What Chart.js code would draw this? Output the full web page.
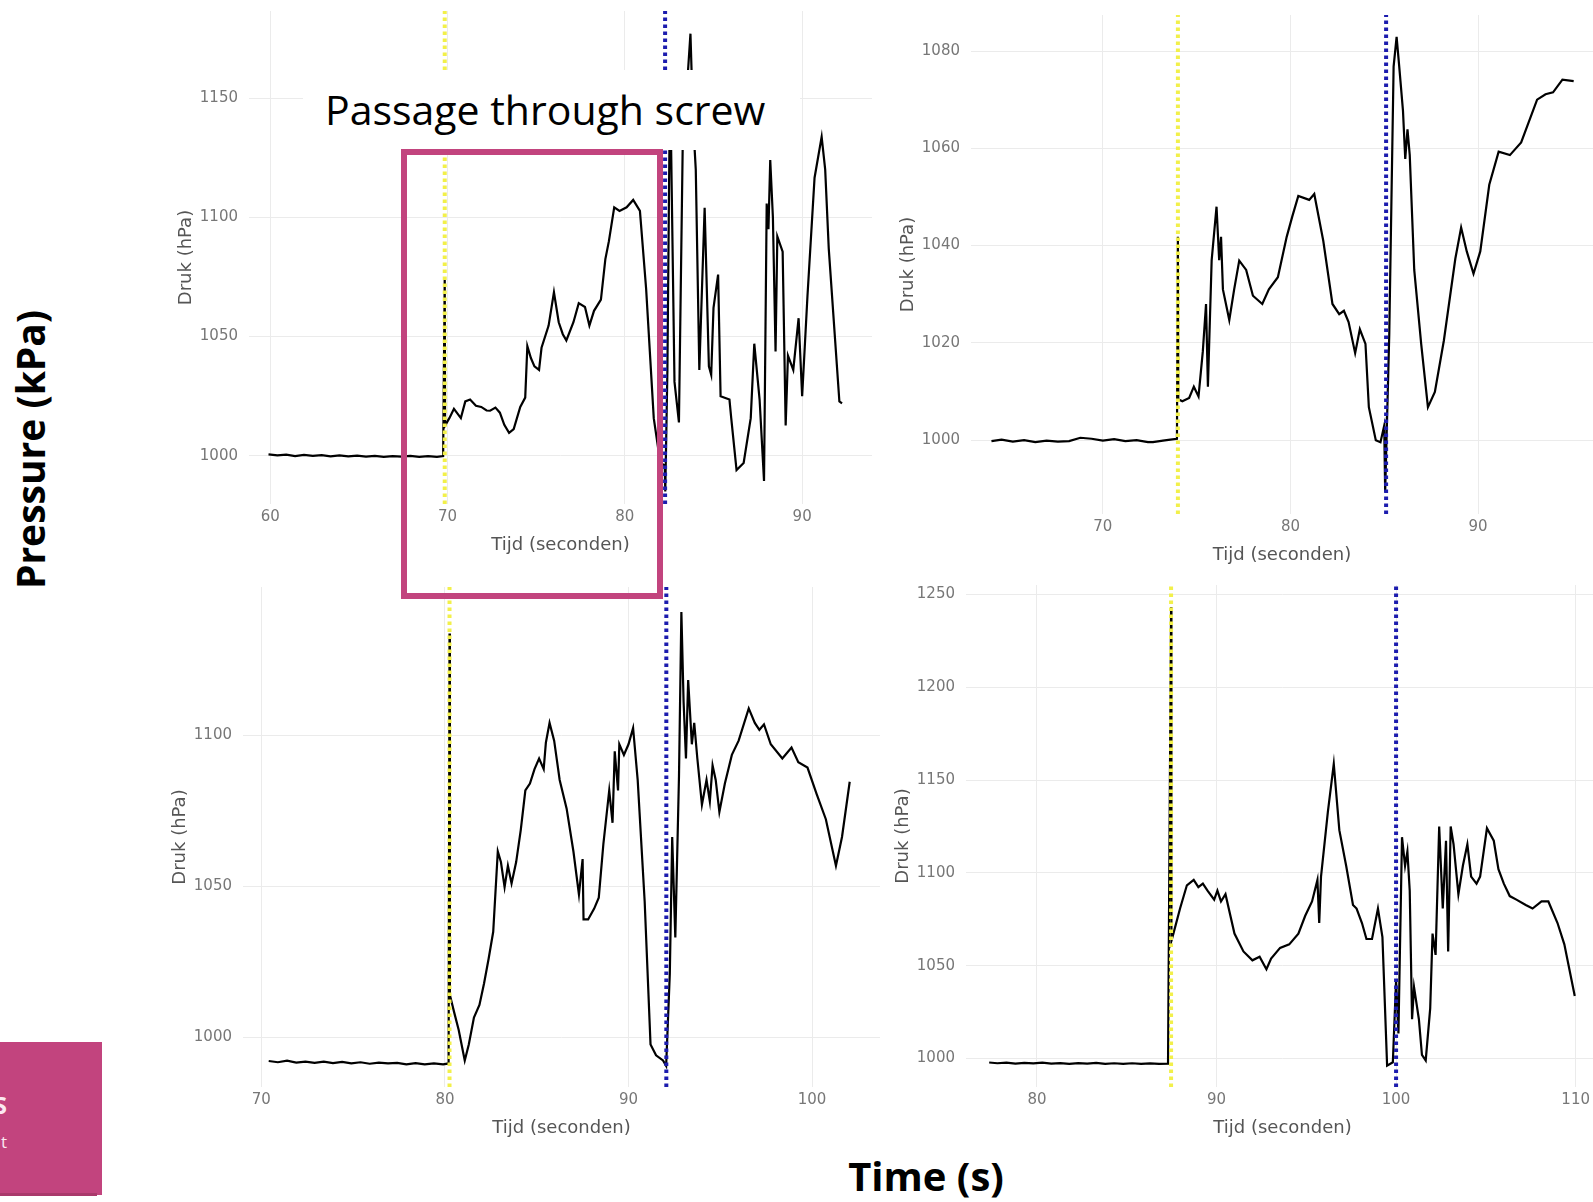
<!DOCTYPE html>
<html>
<head>
<meta charset="utf-8">
<script src="https://cdn.jsdelivr.net/npm/chart.js@4.4.0/dist/chart.umd.min.js"></script>
<style>
  html, body { margin: 0; overflow: hidden; background: #fff; }
  body { width: 1593px; height: 1202px; position: relative; font-family: "Open Sans", sans-serif; }
  .panel { position: absolute; }
  .txt { position: absolute; white-space: nowrap; line-height: 1; }
</style>
</head>
<body>
<div id="charts"></div>

<!-- white label box over the first run -->
<div style="position:absolute;left:303px;top:70px;width:497px;height:80px;background:#fff"></div>
<div class="txt" style="left:325px;top:89px;font-size:41px;color:#000">Passage through screw</div>
<div style="position:absolute;left:401px;top:149px;width:262px;height:450px;border:6px solid #c2447e;box-sizing:border-box"></div>

<div class="txt" style="left:-221px;top:430px;width:500px;text-align:center;font-size:39px;font-weight:700;color:#000;transform:rotate(-90deg)">Pressure (kPa)</div>
<div class="txt" style="left:726px;top:1156px;width:400px;text-align:center;font-size:40px;font-weight:700;color:#000">Time (s)</div>

<div style="position:absolute;left:0;top:1042px;width:102px;height:153px;background:#c2447e"></div>
<div style="position:absolute;left:0;top:1193px;width:97px;height:3px;background:#a9396b"></div>
<div class="txt" style="left:-53px;top:1093px;width:60px;text-align:right;font-size:24px;font-weight:700;color:#fbe9f1">S</div>
<div class="txt" style="left:-53px;top:1133px;width:60px;text-align:right;font-size:17px;color:#fbe9f1">t</div>

<script>
// run 1
const t1 = [59.9, 60.4, 60.9, 61.4, 61.9, 62.4, 62.9, 63.4, 63.9, 64.4, 64.9, 65.4, 65.9, 66.4, 66.9, 67.4, 67.9, 68.4, 68.9, 69.4, 69.75,
  69.84, 69.86, 70.1, 70.36, 70.75, 71.0, 71.27, 71.6, 71.9, 72.2, 72.4, 72.7, 72.95, 73.2, 73.47, 73.73, 74.1, 74.38, 74.5, 74.7, 74.9,
  75.16, 75.3, 75.7, 76.0, 76.27, 76.5, 76.7, 77.1, 77.4, 77.75, 78.0, 78.26, 78.65, 78.9, 79.1, 79.4, 79.7, 80.1, 80.47, 80.85, 81.2,
  81.63, 82.0, 82.25, 82.28, 82.4, 82.55, 82.8, 83.05, 83.3, 83.55, 83.7, 83.85, 84.0, 84.2, 84.5, 84.74, 84.87, 85.0, 85.26, 85.4,
  85.9, 86.0, 86.3, 86.7, 87.1, 87.3, 87.6, 87.85, 88.0, 88.1, 88.2, 88.35, 88.5, 88.6, 88.9, 89.07, 89.2, 89.5, 89.8, 90.0, 90.3,
  90.7, 91.1, 91.3, 91.5, 92.1, 92.25]
const p1 = [1000.6, 1000.2, 1000.5, 999.9, 1000.4, 1000.0, 1000.3, 999.8, 1000.2, 999.8, 1000.1, 999.7, 1000.0, 999.6, 999.9, 999.7, 1000.0, 999.6, 999.9, 999.6, 999.9,
  1074.8, 1012.7, 1015.8, 1019.7, 1015.8, 1022.8, 1023.6, 1021, 1020.5, 1019, 1018.9, 1020.2, 1018.1, 1013, 1009.6, 1011.2, 1020.5, 1024.4, 1046, 1041, 1037.5,
  1036, 1045.3, 1054.6, 1068.6, 1056, 1051, 1048.4, 1056, 1064, 1062.4, 1054.6, 1060.8, 1065.5, 1082.5, 1090, 1104.2, 1102.7, 1104.2, 1107.3, 1102.7, 1070,
  1015.8, 997, 996, 985, 1036, 1160, 1031, 1014, 1150, 1160, 1177, 1140, 1120, 1036, 1104, 1037.5, 1034, 1062, 1076, 1025,
  1023.6, 1015.8, 994, 997, 1015.8, 1047, 1023.6, 989.5, 1105.8, 1095, 1124, 1100, 1043.7, 1092, 1085.6, 1012.7, 1042, 1036, 1057.7, 1025, 1067,
  1116.6, 1133.7, 1120, 1087, 1022.8, 1022]

// run 2
const t2 = [64.06, 64.6, 65.2, 65.8, 66.4, 67.0, 67.6, 68.2, 68.8, 69.4, 70.0, 70.6, 71.2, 71.8, 72.4, 72.67, 73.2, 73.6, 73.95,
  74.0, 74.02, 74.24, 74.6, 74.85, 75.1, 75.33, 75.5, 75.6, 75.8, 76.06, 76.2, 76.3, 76.4, 76.74, 77.0, 77.27, 77.64, 78.0, 78.5,
  78.85, 79.33, 79.8, 80.1, 80.42, 81.0, 81.27, 81.75, 82.24, 82.6, 82.85, 83.1, 83.45, 83.7, 84.0, 84.18, 84.55, 84.8, 85.0, 85.05,
  85.27, 85.5, 85.66, 85.8, 86.0, 86.12, 86.24, 86.36, 86.6, 86.97, 87.33, 87.7, 88.18, 88.79, 89.1, 89.4, 89.76, 90.12, 90.6, 91.1,
  91.7, 92.3, 93.15, 93.6, 94.0, 94.5, 95.1]
const p2 = [999.8, 1000.1, 999.7, 1000.0, 999.6, 999.9, 999.7, 999.8, 1000.5, 1000.3, 999.9, 1000.2, 999.8, 1000.0, 999.6, 999.6, 999.9, 1000.1, 1000.3,
  1041.8, 1008.4, 1008, 1008.7, 1011, 1009, 1018.3, 1028, 1011, 1037, 1048, 1037, 1041.8, 1031, 1024.7, 1031, 1036.9, 1035, 1029.7, 1028,
  1031, 1033.5, 1041.8, 1046, 1050.2, 1049.4, 1050.6, 1041, 1028, 1025.9, 1026.6, 1024.3, 1017.9, 1022.8, 1019.8, 1006.8, 1000, 999.6, 1003, 989.4,
  1022, 1076.8, 1082.9, 1076.8, 1067.7, 1057.8, 1063.9, 1058.6, 1035, 1019.8, 1006.8, 1009.9, 1020.5, 1037.3, 1043.7, 1038.8, 1034.2, 1038.8, 1052.5, 1059.3,
  1058.6, 1061.2, 1070, 1071.1, 1071.5, 1074.1, 1073.8]

// run 3
const t3 = [70.4, 70.9, 71.4, 71.9, 72.4, 72.9, 73.4, 73.9, 74.4, 74.9, 75.4, 75.9, 76.4, 76.9, 77.4, 77.9, 78.4, 78.9, 79.4, 79.9, 80.2,
  80.25, 80.27, 80.5, 80.75, 81.08, 81.3, 81.58, 81.88, 82.13, 82.38, 82.63, 82.88, 83.05, 83.25, 83.43, 83.63, 83.88, 84.13, 84.38,
  84.63, 84.88, 85.13, 85.38, 85.5, 85.7, 85.95, 86.25, 86.63, 87.0, 87.3, 87.5, 87.55, 87.8, 88.13, 88.38, 88.63, 88.95, 89.13, 89.25,
  89.43, 89.5, 89.75, 90.0, 90.25, 90.5, 90.88, 91.2, 91.5, 91.88, 92.05, 92.25, 92.38, 92.55, 92.75, 92.88, 93.0, 93.13, 93.25, 93.45,
  93.58, 93.75, 94.0, 94.25, 94.43, 94.58, 94.75, 94.95, 95.25, 95.63, 96.0, 96.55, 96.88, 97.13, 97.38, 97.75, 98.38, 98.88, 99.25,
  99.75, 100.25, 100.75, 101.3, 101.63, 102.05]
const p3 = [992.1, 991.7, 992.2, 991.6, 991.9, 991.5, 991.9, 991.4, 991.8, 991.3, 991.7, 991.2, 991.6, 991.3, 991.5, 991.0, 991.4, 991.0, 991.3, 991.0, 991.3,
  1133.7, 1014, 1008.3, 1002.4, 992.3, 997.6, 1006.5, 1010.7, 1017.8, 1026, 1034.9, 1061.5, 1058, 1049.7, 1056.8, 1050.9, 1058, 1068.6, 1081.7,
  1084, 1088.8, 1092.3, 1088.8, 1097.6, 1104.1, 1098.2, 1085.2, 1075.7, 1061.5, 1047.3, 1059, 1039, 1039, 1042.6, 1046.2, 1063.9, 1081.7, 1071, 1094.7,
  1081.7, 1097, 1093.5, 1097, 1102.4, 1085.2, 1045, 997.6, 994, 992.3, 990.5, 1021, 1066.3, 1033, 1086.4, 1140.8, 1111.2, 1092.3, 1118.3, 1097,
  1104.1, 1092.3, 1077, 1085.2, 1078.1, 1090, 1085.2, 1074.6, 1084, 1093.5, 1098.2, 1108.9, 1104.1, 1101.8, 1103.6, 1097, 1092.3, 1095.9, 1091.1,
  1089.3, 1080.5, 1072.2, 1056.8, 1066.3, 1084.6]

// run 4
const t4 = [77.34, 77.8, 78.3, 78.8, 79.3, 79.8, 80.3, 80.8, 81.3, 81.8, 82.3, 82.8, 83.3, 83.8, 84.3, 84.8, 85.3, 85.8, 86.3, 86.8, 87.3,
  87.47, 87.49, 87.6, 87.97, 88.35, 88.73, 88.99, 89.24, 89.5, 89.87, 90.05, 90.25, 90.5, 91.0, 91.5, 92.0, 92.4, 92.78, 93.04, 93.54,
  94.05, 94.56, 94.94, 95.32, 95.62, 95.72, 95.82, 96.2, 96.53, 96.84, 97.22, 97.6, 97.8, 98.1, 98.35, 98.66, 98.99, 99.24, 99.5, 99.82,
  100.0, 100.13, 100.33, 100.5, 100.63, 100.76, 100.89, 101.0, 101.27, 101.44, 101.65, 101.9, 102.03, 102.2, 102.4, 102.6, 102.78, 102.9,
  103.04, 103.2, 103.47, 103.72, 103.97, 104.18, 104.48, 104.68, 105.06, 105.44, 105.7, 106.0, 106.33, 106.7, 107.22, 107.6, 108.1,
  108.48, 108.99, 109.37, 109.95]
const p4 = [997.9, 997.5, 997.8, 997.3, 997.7, 997.4, 997.8, 997.3, 997.6, 997.2, 997.6, 997.3, 997.7, 997.2, 997.5, 997.2, 997.5, 997.1, 997.4, 997.1, 997.3,
  1243, 1063.5, 1067.3, 1080.8, 1093.3, 1096.2, 1092.3, 1094.2, 1090.4, 1085.6, 1090.4, 1084.6, 1088.5, 1067.3, 1057.7, 1052.9, 1054.8, 1048.1, 1053.8, 1059.6,
  1061.5, 1067.3, 1076.9, 1084.6, 1096.2, 1073, 1098, 1132.7, 1158.7, 1123, 1103.8, 1082.7, 1080.8, 1073, 1064.4, 1064.4, 1080.8, 1065.4, 996.2, 998,
  1042.3, 1013.5, 1119.2, 1103.8, 1111.5, 1090.4, 1021.2, 1038.5, 1021.2, 1002, 999, 1027, 1067.3, 1055.8, 1125, 1080.8, 1117.3, 1057.7,
  1125, 1115.4, 1088.5, 1103.8, 1115.4, 1098, 1094.2, 1098, 1124, 1117.3, 1102, 1094.2, 1087.5, 1085.6, 1082.7, 1080.8, 1084.6,
  1084.6, 1073, 1061.5, 1033.7]

// start (yellow) and end (blue) markers per run, in seconds
const yellowT = [69.84, 74.0, 80.25, 87.47]
const blueT = [82.27, 85.1, 92.06, 100.0]

// tick labels
const xTicks1 = [60, 70, 80, 90]
const xTicks2 = [70, 80, 90]
const xTicks3 = [70, 80, 90, 100]
const xTicks4 = [80, 90, 100, 110]
const yTicks1 = [1000, 1050, 1100, 1150]
const yTicks2 = [1000, 1020, 1040, 1060, 1080]
const yTicks3 = [1000, 1050, 1100]
const yTicks4 = [1000, 1050, 1100, 1150, 1200, 1250]

const Y_AXIS_W = 90
const X_AXIS_H = 56
const tickFont = { family: "DejaVu Sans", size: 15 }
const titleFont = { family: "DejaVu Sans", size: 18 }

// plot box on the page + axis range for each run
const panels = [
  { t: t1, p: p1, xt: xTicks1, yt: yTicks1, i: 0, box: [249, 11, 872, 504], x: [58.8, 93.94], y: [979.8, 1186.5] },
  { t: t2, p: p2, xt: xTicks2, yt: yTicks2, i: 1, box: [971, 15, 1593, 514], x: [62.97, 96.13], y: [984.83, 1087.4] },
  { t: t3, p: p3, xt: xTicks3, yt: yTicks3, i: 2, box: [243, 587, 880, 1087], x: [69.0, 103.7], y: [983.5, 1149.1] },
  { t: t4, p: p4, xt: xTicks4, yt: yTicks4, i: 3, box: [966, 585, 1599, 1087], x: [76.05, 111.3], y: [984.7, 1255] },
]

function markerLine(t, range, color) {
  return {
    data: [{ x: t, y: range[0] }, { x: t, y: range[1] }],
    borderColor: color,
    borderWidth: 4,
    borderDash: [3.5, 3.5],
    pointRadius: 0,
    order: 0,
  }
}

panels.forEach(function (pn) {
  const [L, T, R, B] = pn.box
  const w = R - L + Y_AXIS_W
  const h = B - T + X_AXIS_H
  const wrap = document.createElement("div")
  wrap.className = "panel"
  wrap.style.left = L - Y_AXIS_W + "px"
  wrap.style.top = T + "px"
  const cv = document.createElement("canvas")
  cv.width = w
  cv.height = h
  cv.style.width = w + "px"
  cv.style.height = h + "px"
  wrap.appendChild(cv)
  document.getElementById("charts").appendChild(wrap)

  new Chart(cv, {
    type: "line",
    data: {
      datasets: [
        markerLine(yellowT[pn.i], pn.y, "#f2f04a"),
        markerLine(blueT[pn.i], pn.y, "#1c1cae"),
        {
          data: pn.t.map((v, k) => ({ x: v, y: pn.p[k] })),
          borderColor: "#000",
          borderWidth: 2.2,
          pointRadius: 0,
          tension: 0,
          order: 1,
        },
      ],
    },
    options: {
      responsive: false,
      animation: false,
      devicePixelRatio: 1,
      layout: { padding: 0 },
      plugins: { legend: { display: false }, tooltip: { enabled: false } },
      scales: {
        x: {
          type: "linear",
          min: pn.x[0],
          max: pn.x[1],
          afterBuildTicks: (s) => { s.ticks = pn.xt.map((v) => ({ value: v })) },
          afterFit: (s) => { s.height = X_AXIS_H; s.paddingLeft = 0; s.paddingRight = 0 },
          grid: { color: "#ebebeb", drawTicks: false },
          border: { display: false },
          ticks: { padding: 4, color: "#777", font: tickFont, maxRotation: 0, autoSkip: false, callback: (v) => String(v) },
          title: { display: true, text: "Tijd (seconden)", color: "#555", font: titleFont, padding: { top: 0, bottom: 4 } },
        },
        y: {
          min: pn.y[0],
          max: pn.y[1],
          afterBuildTicks: (s) => { s.ticks = pn.yt.map((v) => ({ value: v })) },
          afterFit: (s) => { s.width = Y_AXIS_W; s.paddingTop = 0; s.paddingBottom = 0 },
          grid: { color: "#ebebeb", drawTicks: false },
          border: { display: false },
          ticks: { padding: 11, color: "#777", font: tickFont, autoSkip: false, callback: (v) => String(v) },
          title: { display: true, text: "Druk (hPa)", color: "#555", font: titleFont, padding: { top: 17, bottom: 0 } },
        },
      },
    },
  })
})
</script>
</body>
</html>
